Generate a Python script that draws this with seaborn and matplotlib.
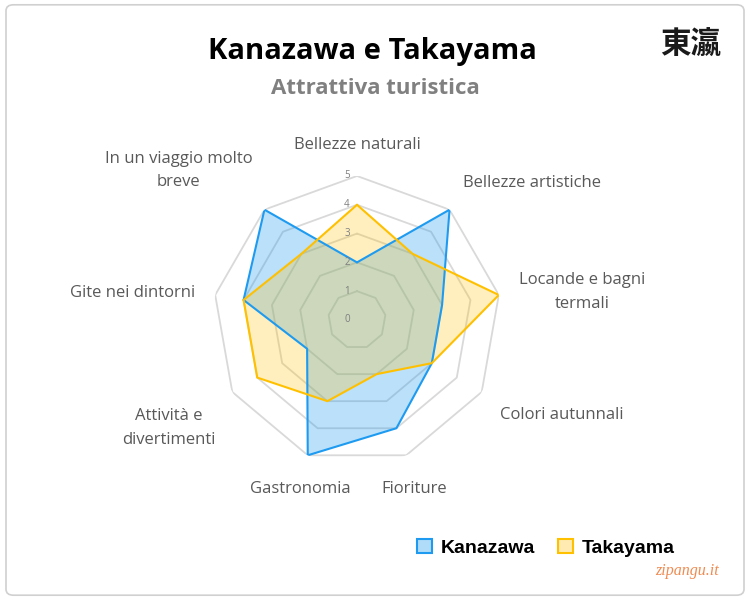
"""
Radar chart: Kanazawa e Takayama - attrattiva turistica.
"""

import matplotlib
matplotlib.use("Agg")
import matplotlib.pyplot as plt
from matplotlib.patches import Patch, FancyBboxPatch
import numpy as np
import pandas as pd
import seaborn as sns

# data (clockwise from the top)
categories = [
    "Bellezze naturali",
    "Bellezze artistiche",
    "Locande e bagni\ntermali",
    "Colori autunnali",
    "Fioriture",
    "Gastronomia",
    "Attività e\ndivertimenti",
    "Gite nei dintorni",
    "In un viaggio molto\nbreve",
]
kanazawa = [2, 5, 3, 3, 4, 5, 2, 4, 5]
takayama = [4, 3, 5, 3, 2, 3, 4, 4, 3]
series_names = ["Kanazawa", "Takayama"]
radial_ticks = [0, 1, 2, 3, 4, 5]

# label placement (pixel offsets from the outer vertex, alignment)
label_offsets = [
    ((0, 31), "center"),
    ((13, 27), "left"),
    ((20, 3), "left"),
    ((18, -23), "left"),
    ((8, -34), "center"),
    ((-7, -34), "center"),
    ((-17, -36), "right"),
    ((-20, 2), "right"),
    ((-12, 39), "right"),
]

line_colors = {"Kanazawa": "#1E9BF0", "Takayama": "#FFC000"}
fill_alpha = {"Kanazawa": 0.3, "Takayama": 0.25}

sns.set_theme(style="white")
plt.rcParams["font.family"] = ["Open Sans", "DejaVu Sans"]

n = len(categories)
angles = np.linspace(0, 2 * np.pi, n, endpoint=False)
angles_closed = np.append(angles, angles[0])

rows = []
for name, vals in zip(series_names, [kanazawa, takayama]):
    for i, a in enumerate(angles_closed):
        rows.append({"serie": name, "theta": a, "valore": vals[i % n], "order": i})
df = pd.DataFrame(rows)

fig = plt.figure(figsize=(7.5, 6), dpi=100, facecolor="white")

# rounded frame
frame = FancyBboxPatch((0.008, 0.008), 0.984, 0.984,
                       boxstyle="round,pad=0,rounding_size=0.01",
                       transform=fig.transFigure, facecolor="none",
                       edgecolor="#d0d0d0", linewidth=1.2, zorder=-1)
fig.patches.append(frame)

ax = fig.add_axes([0.284, 0.2267, 0.384, 0.48], projection="polar")
ax.set_facecolor("none")
ax.set_theta_zero_location("N")
ax.set_theta_direction(-1)
ax.spines["polar"].set_visible(False)

# nonagon gridlines
for r in radial_ticks[1:]:
    ax.plot(angles_closed, [r] * (n + 1), color="#d9d9d9", linewidth=1.3, zorder=1)

# series
for name in series_names:
    sub = df[df["serie"] == name].sort_values("order")
    ax.fill(sub["theta"], sub["valore"], color=line_colors[name],
            alpha=fill_alpha[name], linewidth=0, zorder=2)
sns.lineplot(data=df, x="theta", y="valore", hue="serie", units="serie",
             estimator=None, sort=False, palette=line_colors, linewidth=1.5,
             legend=False, ax=ax, zorder=3)
ax.set_xlabel("")
ax.set_ylabel("")
ax.set_ylim(0, 5)
ax.set_xticks([])
ax.set_yticks([])
ax.grid(False)

# radial tick labels
for r in radial_ticks:
    ax.annotate(str(r), xy=(0, r), xytext=(-10, 0), textcoords="offset pixels",
                ha="center", va="center", fontsize=7, color="#7f7f7f", zorder=4)

# category labels
for a, lab, (off, ha) in zip(angles, categories, label_offsets):
    ax.annotate(lab, xy=(a, 5), xytext=off, textcoords="offset pixels",
                ha=ha, va="center", multialignment="center",
                fontsize=12, color="#595959", linespacing=1.6,
                annotation_clip=False)

# titles
fig.text(0.497, 0.915, "Kanazawa e Takayama", ha="center", va="center",
         fontsize=21, fontweight="bold", color="black")
fig.text(0.5, 0.853, "Attrattiva turistica", ha="center", va="center",
         fontsize=16, fontweight="bold", color="#808080")

# logo and watermark
fig.text(0.921, 0.925, "東瀛", ha="center", va="center", fontsize=22,
         fontweight="bold", family=["Noto Sans CJK JP", "DejaVu Sans"],
         color="#1a1a1a")
fig.text(0.916, 0.048, "zipangu.it", ha="center", va="center", fontsize=11.5,
         family="Liberation Serif", style="italic", color="#F08A50")

# legend
handles = [Patch(facecolor=(*matplotlib.colors.to_rgb(line_colors[s]), fill_alpha[s] + 0.05),
                 edgecolor=line_colors[s], linewidth=1.5) for s in series_names]
leg = fig.legend(handles, series_names, loc="center", bbox_to_anchor=(0.728, 0.087),
                 ncol=2, frameon=False, handlelength=0.75, handleheight=0.75,
                 handletextpad=0.45, columnspacing=1.2,
                 prop={"family": "Liberation Sans", "weight": "bold", "size": 14})
for t in leg.get_texts():
    t.set_color("black")

fig.savefig("out.png", dpi=100, facecolor="white")
plt.close(fig)
